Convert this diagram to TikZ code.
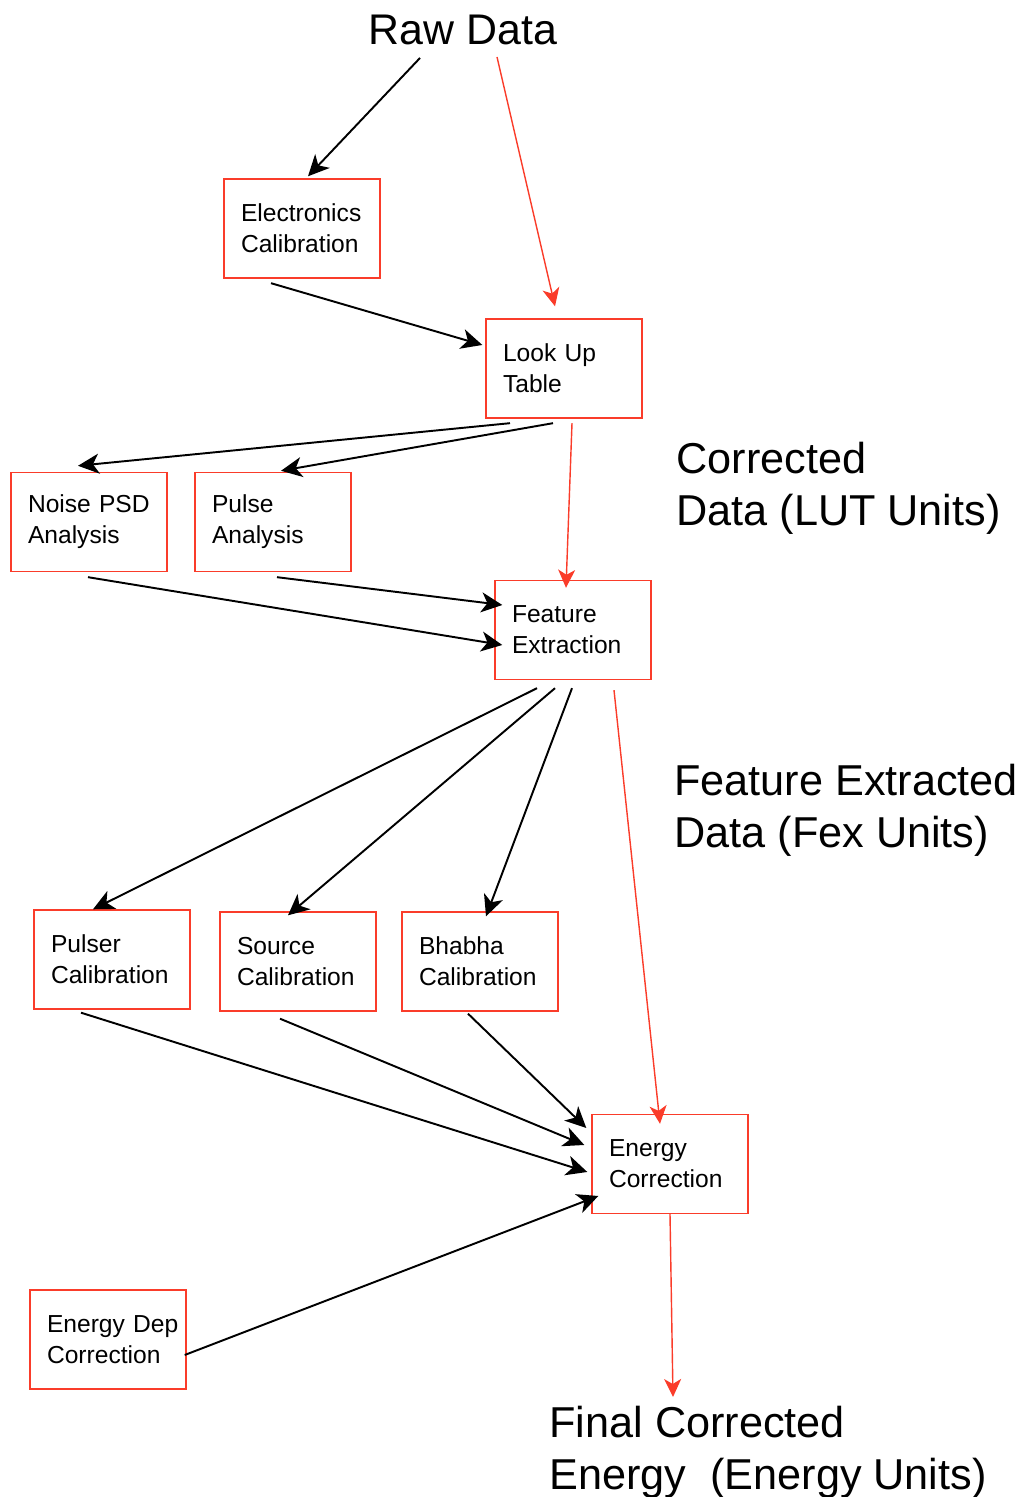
\documentclass[tikz,border=0pt]{standalone}
\usepackage{fontspec}
\setmainfont{Liberation Sans}
\usetikzlibrary{arrows.meta, calc}
\definecolor{flowred}{RGB}{250,60,42}

\begin{document}
\begin{tikzpicture}[
    box/.style={rectangle, draw=flowred, line width=0.8pt, minimum width=3.12cm, minimum height=1.98cm, inner xsep=0.34cm, text width=2.44cm, align=left, font=\fontsize{14}{17.6}\selectfont},
    units/.style={align=left, inner sep=0pt, anchor=north west, font=\fontsize{24.6}{29.5}\selectfont},
    arrow/.style={-{Stealth[length=0.42cm, width=0.4cm, inset=0.12cm]}, line width=1.1pt},
    redarrow/.style={-{Stealth[length=0.36cm, width=0.34cm, inset=0.1cm]}, draw=flowred, line width=0.8pt}
]
\useasboundingbox (0,0) rectangle (20.34,29.94);

% Data stages
\node[font=\fontsize{24.4}{29.5}\selectfont] (raw) at (9.26, 29.34) {Raw Data};
\node[units] (lutunits) at (13.52, 21.10) {Corrected\\Data (LUT Units)};
\node[units] (fexunits) at (13.48, 14.66) {Feature Extracted\\Data (Fex Units)};
\node[units] (final) at (10.98, 1.82) {Final Corrected\\Energy~~(Energy Units)};

% Upper chain
\node[box] (elec) at (6.04, 25.37) {Electronics\\Calibration};
\node[box] (lut) at (11.28, 22.57) {Look Up\\Table};
\node[box] (noise) at (1.78, 19.50) {Noise PSD\\Analysis};
\node[box] (pulse) at (5.46, 19.50) {Pulse\\Analysis};
\node[box] (fex) at (11.46, 17.34) {Feature\\Extraction};

% Calibrations
\node[box] (pulser) at (2.24, 10.75) {Pulser\\Calibration};
\node[box] (source) at (5.96, 10.71) {Source\\Calibration};
\node[box] (bhabha) at (9.60, 10.71) {Bhabha\\Calibration};
\node[box] (ecorr) at (13.40, 6.66) {Energy\\Correction};
\node[box] (edep) at (2.16, 3.15) {Energy~Dep\\Correction};

% Connections
\draw[arrow] ($(raw)+(-0.86,-0.56)$) -- ($(elec.north)+(0.12,0.04)$);
\draw[redarrow] ($(raw)+(0.68,-0.54)$) -- ($(lut.north)+(-0.18,0.24)$);
\draw[arrow] ($(elec.south)+(-0.62,-0.09)$) -- ($(lut.west)+(-0.06,0.47)$);
\draw[arrow] ($(lut.south)+(-1.08,-0.09)$) -- ($(noise.north)+(-0.22,0.12)$);
\draw[arrow] ($(lut.south)+(-0.22,-0.09)$) -- ($(pulse.north)+(0.16,0.02)$);
\draw[redarrow] ($(lut.south)+(0.16,-0.09)$) -- ($(fex.north)+(-0.14,-0.16)$);
\draw[arrow] ($(noise.south)+(-0.02,-0.10)$) -- ($(fex.west)+(0.16,-0.30)$);
\draw[arrow] ($(pulse.south)+(0.08,-0.10)$) -- ($(fex.west)+(0.16,0.50)$);
\draw[arrow] ($(fex.south)+(-0.72,-0.16)$) -- ($(pulser.north)+(-0.38,0)$);
\draw[arrow] ($(fex.south)+(-0.36,-0.16)$) -- ($(source.north)+(-0.20,-0.08)$);
\draw[arrow] ($(fex.south)+(-0.02,-0.16)$) -- ($(bhabha.north)+(0.12,-0.10)$);
\draw[redarrow] ($(fex.south)+(0.82,-0.20)$) -- ($(ecorr.north)+(-0.20,-0.20)$);
\draw[arrow] ($(pulser.south)+(-0.62,-0.06)$) -- ($(ecorr.west)+(-0.08,-0.16)$);
\draw[arrow] ($(source.south)+(-0.36,-0.14)$) -- ($(ecorr.west)+(-0.14,0.38)$);
\draw[arrow] ($(bhabha.south)+(-0.24,-0.04)$) -- ($(ecorr.west)+(-0.10,0.72)$);
\draw[arrow] ($(edep.east)+(-0.04,-0.31)$) -- ($(ecorr.west)+(0.14,-0.64)$);
\draw[redarrow] (ecorr.south) -- ($(final.north west)+(2.48,0.18)$);

\end{tikzpicture}
\end{document}
